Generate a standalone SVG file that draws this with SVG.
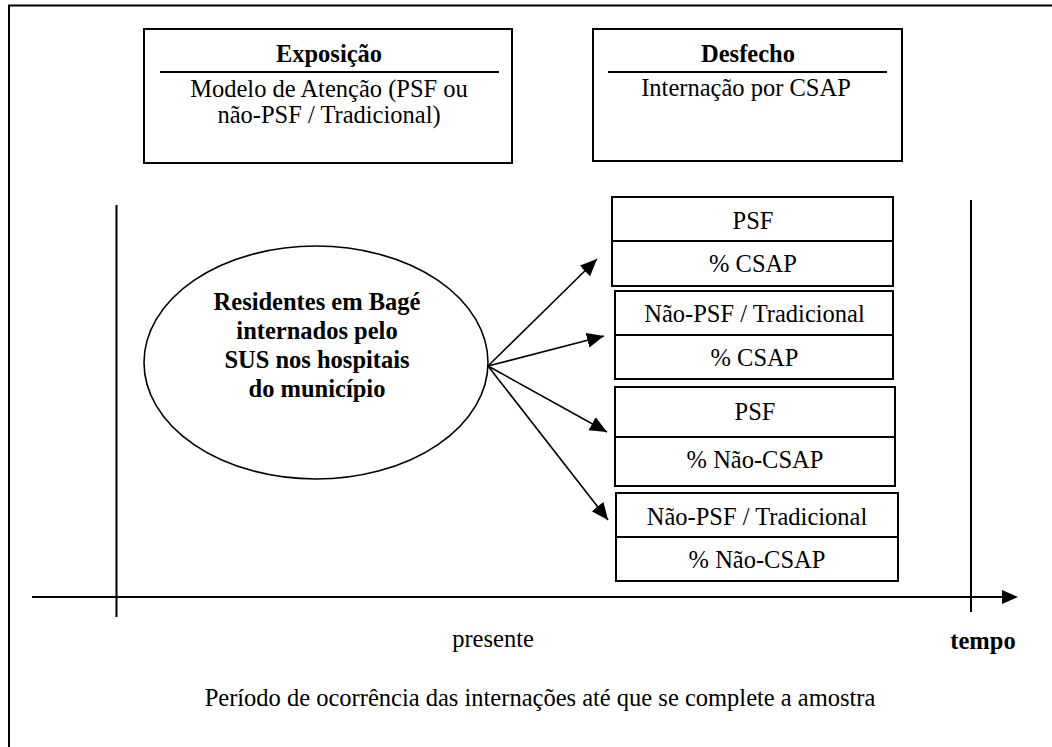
<svg xmlns="http://www.w3.org/2000/svg" width="1052" height="747" viewBox="0 0 1052 747">
<defs>
<style>
.t{font-family:"Liberation Serif","Times New Roman",serif;font-size:24.5px;fill:#000;text-anchor:middle}
.b{font-weight:bold}
.box{fill:#fff;stroke:#000;stroke-width:2}
.ln{stroke:#000;stroke-width:2;fill:none}
.arr{stroke:#000;stroke-width:1.6;fill:none;marker-end:url(#ah)}
</style>
<marker id="ah" markerUnits="userSpaceOnUse" markerWidth="18" markerHeight="16" refX="17" refY="7.5" orient="auto">
<path d="M0,0 L17,7.5 L0,15 Z" fill="#000"/>
</marker>
</defs>
<rect x="0" y="0" width="1052" height="747" fill="#fff"/>
<g id="frame">
<path class="ln" d="M9,760 L9,5.5 L1060,5.5"/>
</g>
<g id="exposicao">
<rect class="box" x="144" y="29" width="368" height="134"/>
<line class="ln" x1="160" y1="72" x2="499" y2="72"/>
<text class="t b" x="329" y="62">Exposição</text>
<text class="t" x="329" y="97">Modelo de Atenção (PSF ou</text>
<text class="t" x="329" y="123">não-PSF / Tradicional)</text>
</g>
<g id="desfecho">
<rect class="box" x="593" y="29" width="309" height="132"/>
<line class="ln" x1="608" y1="72" x2="887" y2="72"/>
<text class="t b" x="748" y="62">Desfecho</text>
<text class="t" x="746" y="96">Internação por CSAP</text>
</g>
<g id="timeline">
<line class="ln" x1="116.5" y1="205" x2="116.5" y2="617"/>
<line class="ln" x1="971" y1="200" x2="971" y2="612"/>
<line class="ln" x1="32" y1="597" x2="1003" y2="597"/>
<path d="M1002,590 L1018,597 L1002,604 Z" fill="#000"/>
<text class="t" x="493" y="647">presente</text>
<text class="t b" x="983" y="649">tempo</text>
<text class="t" x="540" y="706">Período de ocorrência das internações até que se complete a amostra</text>
</g>
<g id="populacao">
<ellipse cx="316" cy="362.5" rx="172" ry="116.5" fill="#fff" stroke="#000" stroke-width="1.6"/>
<text class="t b" x="317" y="310">Residentes em Bagé</text>
<text class="t b" x="317" y="339">internados pelo</text>
<text class="t b" x="317" y="368">SUS nos hospitais</text>
<text class="t b" x="317" y="397">do município</text>
</g>
<g id="grupo1">
<rect class="box" x="612" y="197" width="281" height="89"/>
<line class="ln" x1="612" y1="241" x2="893" y2="241"/>
<text class="t" x="753" y="229">PSF</text>
<text class="t" x="753" y="272">% CSAP</text>
</g>
<g id="grupo2">
<rect class="box" x="615" y="291" width="278" height="88"/>
<line class="ln" x1="615" y1="335" x2="893" y2="335"/>
<text class="t" x="754.5" y="322">Não-PSF / Tradicional</text>
<text class="t" x="754.5" y="366">% CSAP</text>
</g>
<g id="grupo3">
<rect class="box" x="615" y="387" width="280" height="99"/>
<line class="ln" x1="615" y1="437" x2="895" y2="437"/>
<text class="t" x="755" y="420">PSF</text>
<text class="t" x="755" y="468">% Não-CSAP</text>
</g>
<g id="grupo4">
<rect class="box" x="616" y="493" width="282" height="88"/>
<line class="ln" x1="616" y1="537" x2="898" y2="537"/>
<text class="t" x="757" y="525">Não-PSF / Tradicional</text>
<text class="t" x="757" y="568">% Não-CSAP</text>
</g>
<g id="connectors">
<line class="arr" x1="488" y1="366" x2="597" y2="259"/>
<line class="arr" x1="488" y1="366" x2="604" y2="336"/>
<line class="arr" x1="488" y1="366" x2="607" y2="432"/>
<line class="arr" x1="488" y1="366" x2="608" y2="520"/>
</g>
</svg>
